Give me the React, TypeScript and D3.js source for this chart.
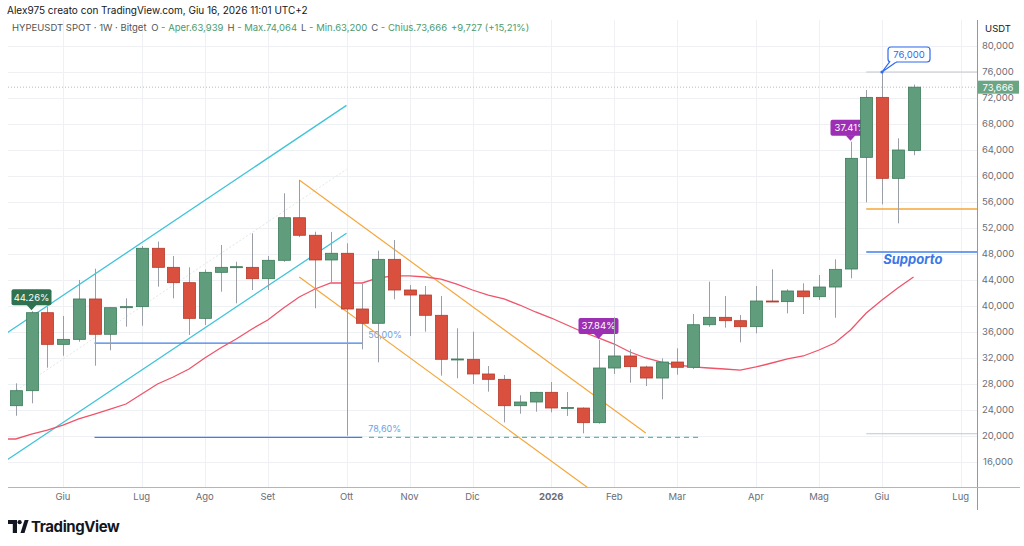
import React from "react";
import * as d3 from "d3";

// ---------- DATA ----------
const dates = [
  "2025-05-12","2025-05-19","2025-05-26","2025-06-02","2025-06-09","2025-06-16","2025-06-23","2025-06-30",
  "2025-07-07","2025-07-14","2025-07-21","2025-07-28","2025-08-04","2025-08-11","2025-08-18","2025-08-25",
  "2025-09-01","2025-09-08","2025-09-15","2025-09-22","2025-09-29","2025-10-06","2025-10-13","2025-10-20",
  "2025-10-27","2025-11-03","2025-11-10","2025-11-17","2025-11-24","2025-12-01","2025-12-08","2025-12-15",
  "2025-12-22","2025-12-29","2026-01-05","2026-01-12","2026-01-19","2026-01-26","2026-02-02","2026-02-09",
  "2026-02-16","2026-02-23","2026-03-02","2026-03-09","2026-03-16","2026-03-23","2026-03-30","2026-04-06",
  "2026-04-13","2026-04-20","2026-04-27","2026-05-04","2026-05-11","2026-05-18","2026-05-25","2026-06-01",
  "2026-06-08","2026-06-15",
];
const opens = [
  24660, 26970, 38970, 34100, 34870, 41080, 35650, 39740, 39900, 48880, 45950, 43590, 38100, 45180, 45950, 45950,
  44200, 47030, 53580, 50880, 47080, 48110, 39540, 37340, 47180, 42460, 41690, 38570, 31800, 31800, 29540, 28720,
  24660, 25230, 26720, 24310, 24300, 22050, 30460, 32310, 30620, 28920, 31380, 30570, 37120, 38260, 37740, 36820,
  40770, 40670, 42310, 41430, 42920, 45690, 62870, 72100, 59640, 63939,
];
const highs = [
  28100, 39200, 39900, 38460, 44000, 45740, 39800, 41180, 49230, 49900, 47690, 45950, 45600, 49380, 46820, 51180,
  47690, 57340, 59380, 51430, 51400, 49640, 43490, 48510, 50150, 43230, 43080, 41540, 36570, 36050, 30770, 29380,
  26260, 26800, 28310, 26770, 24400, 34770, 38260, 33330, 30800, 31950, 33490, 38770, 43740, 41540, 38620, 43080,
  45640, 42570, 43490, 44770, 47180, 65280, 73230, 76000, 65800, 74064,
];
const lows = [
  23120, 25030, 30510, 32350, 34500, 30820, 33180, 36820, 36970, 42970, 41180, 35540, 37080, 42200, 40410, 42460,
  42460, 46800, 50600, 39650, 43490, 20050, 33330, 31330, 41030, 35380, 36050, 29280, 28870, 28000, 26820, 22100,
  23430, 23740, 23640, 23080, 20410, 21900, 29540, 28200, 27690, 25640, 29430, 30300, 36820, 36670, 34410, 35800,
  40600, 38870, 38770, 40920, 38200, 44260, 55950, 55640, 52720, 63200,
];
const closes = [
  26970, 38970, 34100, 34870, 41080, 35650, 39740, 39900, 48880, 45950, 43590, 38100, 45180, 45950, 46050, 44200,
  47030, 53580, 50880, 47080, 48110, 39540, 37340, 47180, 42460, 41690, 38570, 31800, 31850, 29540, 28720, 24660,
  25230, 26720, 24310, 24400, 22050, 30460, 32310, 30670, 28920, 31380, 30570, 37120, 38260, 37740, 36820, 40770,
  40700, 42310, 41430, 42920, 45640, 62720, 72100, 59640, 64000, 73666,
];

// moving average (red line)
const smaDates = ["2025-05-05", ...dates];
const smaValues = [
  19540, 19540, 20300, 20920, 21690, 22620, 23380, 24150, 24920, 26460, 28000, 29080, 30310, 32000, 33540, 34920,
  36460, 37850, 39690, 41380, 42620, 43540, 43540, 43540, 44310, 44620, 44620, 44460, 44150, 43380, 42460, 41690,
  41080, 40150, 39080, 38150, 37080, 36000, 35080, 34150, 32920, 32000, 31380, 30920, 30620, 30460, 30310, 30150,
  30620, 31230, 31850, 32310, 33230, 34310, 36310, 38920, 40920, 42770, 44460,
];

const monthTickDates = [
  "2025-06-02","2025-07-07","2025-08-04","2025-09-01","2025-10-06","2025-11-03","2025-12-01",
  "2026-01-05","2026-02-02","2026-03-02","2026-04-06","2026-05-04","2026-06-01","2026-07-06",
];
const monthTickLabels = ["Giu","Lug","Ago","Set","Ott","Nov","Dic","2026","Feb","Mar","Apr","Mag","Giu","Lug"];
const priceTicks = [16000, 20000, 24000, 28000, 32000, 36000, 40000, 44000, 48000, 52000, 56000, 60000, 64000, 68000, 72000, 76000, 80000];

// drawings (date, price)
const cyanUpper: [string, number][] = [["2025-05-05", 35130], ["2025-10-06", 70870]];
const cyanLower: [string, number][] = [["2025-05-05", 15590], ["2025-10-06", 51180]];
const orangeUpper: [string, number][] = [["2025-09-15", 59380], ["2026-02-16", 20460]];
const orangeLower: [string, number][] = [["2025-09-15", 44460], ["2026-02-16", 5540]];
const fibStart = "2025-06-16";
const fibEnd = "2025-10-13";
const fibPrices = [34300, 19800];
const fibLabels = ["50,00%", "78,60%"];
const dashedLine: [string, string, number] = ["2025-10-16", "2026-03-13", 19800];
const rightStart = "2026-05-25";
const rightEnd = "2026-07-27";
const orangeLevel = 54920;
const supportLevel = 48300;
const grayLevels = [76000, 20350];
const lastPrice = 73666;

const pctLabelDates = ["2025-05-19", "2026-01-26", "2026-05-18"];
const pctLabelTexts = ["44.26%", "37.84%", "37.41%"];
const calloutDate = "2026-06-01";
const calloutText = "76,000";

// ---------- LAYOUT ----------
const W = 1024, H = 546;
const L = 8, R = 977, T = 20, B = 487;
const FONT = "Inter, 'Noto Sans', Roboto, sans-serif";
const GREEN = "#5f9d7c", GREEN_S = "#3d7a5a";
const RED = "#d9503e", RED_S = "#b53a2b";

const pd = (s: string) => new Date(s + "T00:00:00Z");

export default function App() {
  const x = d3.scaleUtc().domain([pd("2025-06-02"), pd("2026-06-01")]).range([63, 882]);
  const y = d3.scaleLinear().domain([12000, 80000]).range([488, 46]);
  const bw = 12;
  const fmt = d3.format(",.0f");

  const seg = (p: [string, number][]) => d3.line<[string, number]>().x((d) => x(pd(d[0]))).y((d) => y(d[1]))(p) || "";
  const sma = d3.line<number>().x((_, i) => x(pd(smaDates[i]))).y((d) => y(d))(smaValues) || "";

  // middle of cyan channel
  const cyanMid: [string, number][] = [
    [cyanUpper[0][0], (cyanUpper[0][1] + cyanLower[0][1]) / 2],
    [cyanUpper[1][0], (cyanUpper[1][1] + cyanLower[1][1]) / 2],
  ];

  const xr0 = x(pd(rightStart)), xr1 = x(pd(rightEnd));

  return (
    <div style={{ position: "fixed", left: 0, top: 0, width: W, height: H, background: "#fff" }}>
      <svg width={W} height={H} style={{ display: "block", fontFamily: FONT }}>
        <defs>
          <clipPath id="plot">
            <rect x={L} y={T} width={R - L} height={B - T} />
          </clipPath>
        </defs>
        <rect x={0} y={0} width={W} height={H} fill="#fff" />

        {/* grid */}
        <g stroke="#eef0f4" strokeWidth={1}>
          {monthTickDates.map((d, i) => {
            const xx = Math.round(x(pd(d))) + 0.5;
            return xx < R ? <line key={"v" + i} x1={xx} x2={xx} y1={T} y2={B} /> : null;
          })}
          {priceTicks.map((p) => (
            <line key={"h" + p} x1={L} x2={R} y1={Math.round(y(p)) + 0.5} y2={Math.round(y(p)) + 0.5} />
          ))}
        </g>

        {/* header */}
        <text x={7} y={14} fontSize={10} fill="#131722">Alex975 creato con TradingView.com, Giu 16, 2026 11:01 UTC+2</text>
        <text x={12} y={31} fontSize={9.5} fill="#555">
          <tspan>HYPEUSDT SPOT · 1W · Bitget </tspan>
          <tspan dx={2}>O </tspan><tspan fill="#4c9a6e">- Aper.63,939</tspan>
          <tspan dx={4}>H </tspan><tspan fill="#4c9a6e">- Max.74,064</tspan>
          <tspan dx={4}>L </tspan><tspan fill="#4c9a6e">- Min.63,200</tspan>
          <tspan dx={4}>C </tspan><tspan fill="#4c9a6e">- Chius.73,666</tspan>
          <tspan dx={4} fill="#4c9a6e">+9,727 (+15,21%)</tspan>
        </text>

        <g clipPath="url(#plot)">
          {/* last price dotted line */}
          <line x1={L} x2={R} y1={y(lastPrice)} y2={y(lastPrice)} stroke="#b8bcc4" strokeDasharray="1,2" />

          {/* cyan channel */}
          <path d={seg(cyanMid)} stroke="#dde9e4" strokeDasharray="2,2" fill="none" />
          <path d={seg(cyanUpper)} stroke="#3fc3da" strokeWidth={1.3} fill="none" />
          <path d={seg(cyanLower)} stroke="#3fc3da" strokeWidth={1.3} fill="none" />

          {/* orange channel */}
          <path d={seg(orangeUpper)} stroke="#f5a73a" strokeWidth={1.2} fill="none" />
          <path d={seg(orangeLower)} stroke="#f5a73a" strokeWidth={1.2} fill="none" />

          {/* fib levels */}
          {fibPrices.map((p, i) => (
            <g key={"fib" + i}>
              <line x1={x(pd(fibStart))} x2={x(pd(fibEnd))} y1={y(p)} y2={y(p)} stroke="#3f7fe9" strokeWidth={1.2} />
              <text x={x(pd(fibEnd)) + 6} y={y(p) - 5} fontSize={9} fill="#6ea2e3">{fibLabels[i]}</text>
            </g>
          ))}
          <line x1={x(pd(dashedLine[0]))} x2={x(pd(dashedLine[1]))} y1={y(dashedLine[2])} y2={y(dashedLine[2])}
            stroke="#57bcae" strokeWidth={1.2} strokeDasharray="5,4" />

          {/* right side levels */}
          {grayLevels.map((p) => (
            <line key={"g" + p} x1={xr0} x2={xr1} y1={y(p)} y2={y(p)} stroke="#c3c6cd" strokeWidth={1.2} />
          ))}
          <line x1={xr0} x2={xr1} y1={y(orangeLevel)} y2={y(orangeLevel)} stroke="#f5a73a" strokeWidth={1.3} />
          <line x1={xr0} x2={xr1} y1={y(supportLevel)} y2={y(supportLevel)} stroke="#3f7fe9" strokeWidth={1.4} />
          <text x={xr0 + 17} y={y(supportLevel) + 12} fontSize={13} fontWeight={700} fontStyle="italic" fill="#3a78e6">Supporto</text>

          {/* moving average */}
          <path d={sma} stroke="#ef5469" strokeWidth={1.3} fill="none" />

          {/* percentage labels */}
          {pctLabelDates.map((d, i) => {
            const idx = dates.indexOf(d);
            const cx = x(pd(d));
            const tip = y(highs[idx]) - 1;
            const col = i === 0 ? "#2f7250" : "#9c2fb3";
            const bh = 16, bwid = 40;
            return (
              <g key={"pl" + i}>
                <rect x={cx - bwid / 2} y={tip - 5 - bh} width={bwid} height={bh} rx={2} fill={col} />
                <path d={`M${cx - 5},${tip - 5.5} L${cx},${tip} L${cx + 5},${tip - 5.5} Z`} fill={col} />
                <text x={cx} y={tip - 5 - bh / 2 + 3.3} fontSize={9.5} fill="#fff" textAnchor="middle">{pctLabelTexts[i]}</text>
              </g>
            );
          })}

          {/* candles */}
          {dates.map((d, i) => {
            const cx = Math.round(x(pd(d))) + 0.5;
            const up = closes[i] >= opens[i];
            const top = y(Math.max(opens[i], closes[i]));
            const bot = y(Math.min(opens[i], closes[i]));
            const h = Math.max(1, bot - top);
            return (
              <g key={"c" + i}>
                <line x1={cx} x2={cx} y1={y(highs[i])} y2={y(lows[i])} stroke="#9a9ea6" strokeWidth={1} />
                <rect x={cx - bw / 2} y={top} width={bw} height={h}
                  fill={up ? GREEN : RED} stroke={up ? GREEN_S : RED_S} strokeWidth={0.8} />
              </g>
            );
          })}

          {/* 76,000 callout */}
          {(() => {
            const idx = dates.indexOf(calloutDate);
            const tx = x(pd(calloutDate));
            const ty = y(highs[idx]);
            const bx = tx + 6, bbot = ty - 10, bh = 15, bwid = 42;
            return (
              <g>
                <circle cx={tx} cy={ty} r={1.6} fill="#2f6bef" />
                <rect x={bx} y={bbot - bh} width={bwid} height={bh} rx={3} fill="#fff" stroke="#2f6bef" strokeWidth={1.2} />
                <path d={`M${bx + 2},${bbot - 0.6} L${tx},${ty} L${bx + 9},${bbot - 0.6}`} fill="#fff" stroke="#2f6bef" strokeWidth={1.2} />
                <line x1={bx + 2.6} x2={bx + 8.4} y1={bbot - 0.6} y2={bbot - 0.6} stroke="#fff" strokeWidth={1.4} />
                <text x={bx + bwid / 2} y={bbot - bh / 2 + 3.4} fontSize={9.5} fill="#2f6bef" textAnchor="middle">{calloutText}</text>
              </g>
            );
          })()}
        </g>

        {/* axes lines */}
        <line x1={R + 0.5} x2={R + 0.5} y1={T} y2={510} stroke="#9598a1" strokeWidth={1} />
        <line x1={L} x2={1020} y1={B + 0.5} y2={B + 0.5} stroke="#b2b5be" strokeWidth={1} />

        {/* y labels */}
        <text x={998} y={32} fontSize={9.5} fill="#131722" textAnchor="middle">USDT</text>
        {priceTicks.map((p) => (
          <text key={"yl" + p} x={998} y={y(p) + 3.4} fontSize={9.5} fill="#6a6d78" textAnchor="middle">{fmt(p)}</text>
        ))}
        <rect x={R + 1} y={y(lastPrice) - 6.5} width={41} height={13} fill="#6aa585" />
        <text x={998} y={y(lastPrice) + 3.4} fontSize={9.5} fill="#fff" textAnchor="middle">{fmt(lastPrice)}</text>

        {/* x labels */}
        {monthTickDates.map((d, i) => (
          <text key={"xl" + i} x={x(pd(d))} y={500} fontSize={9.5} fill="#6a6d78" textAnchor="middle"
            fontWeight={monthTickLabels[i] === "2026" ? 700 : 400}>{monthTickLabels[i]}</text>
        ))}

        {/* TradingView logo */}
        <g fill="#131722">
          <path d="M8,520 H17 V533 H12.8 V524 H8 Z" />
          <circle cx={19.6} cy={522.2} r={2.1} />
          <path d="M20.5,533 L24.6,520 H28.6 L24.5,533 Z" />
          <text x={31} y={532} fontSize={15} fontWeight={700} letterSpacing={-0.4}>TradingView</text>
        </g>
      </svg>
    </div>
  );
}
